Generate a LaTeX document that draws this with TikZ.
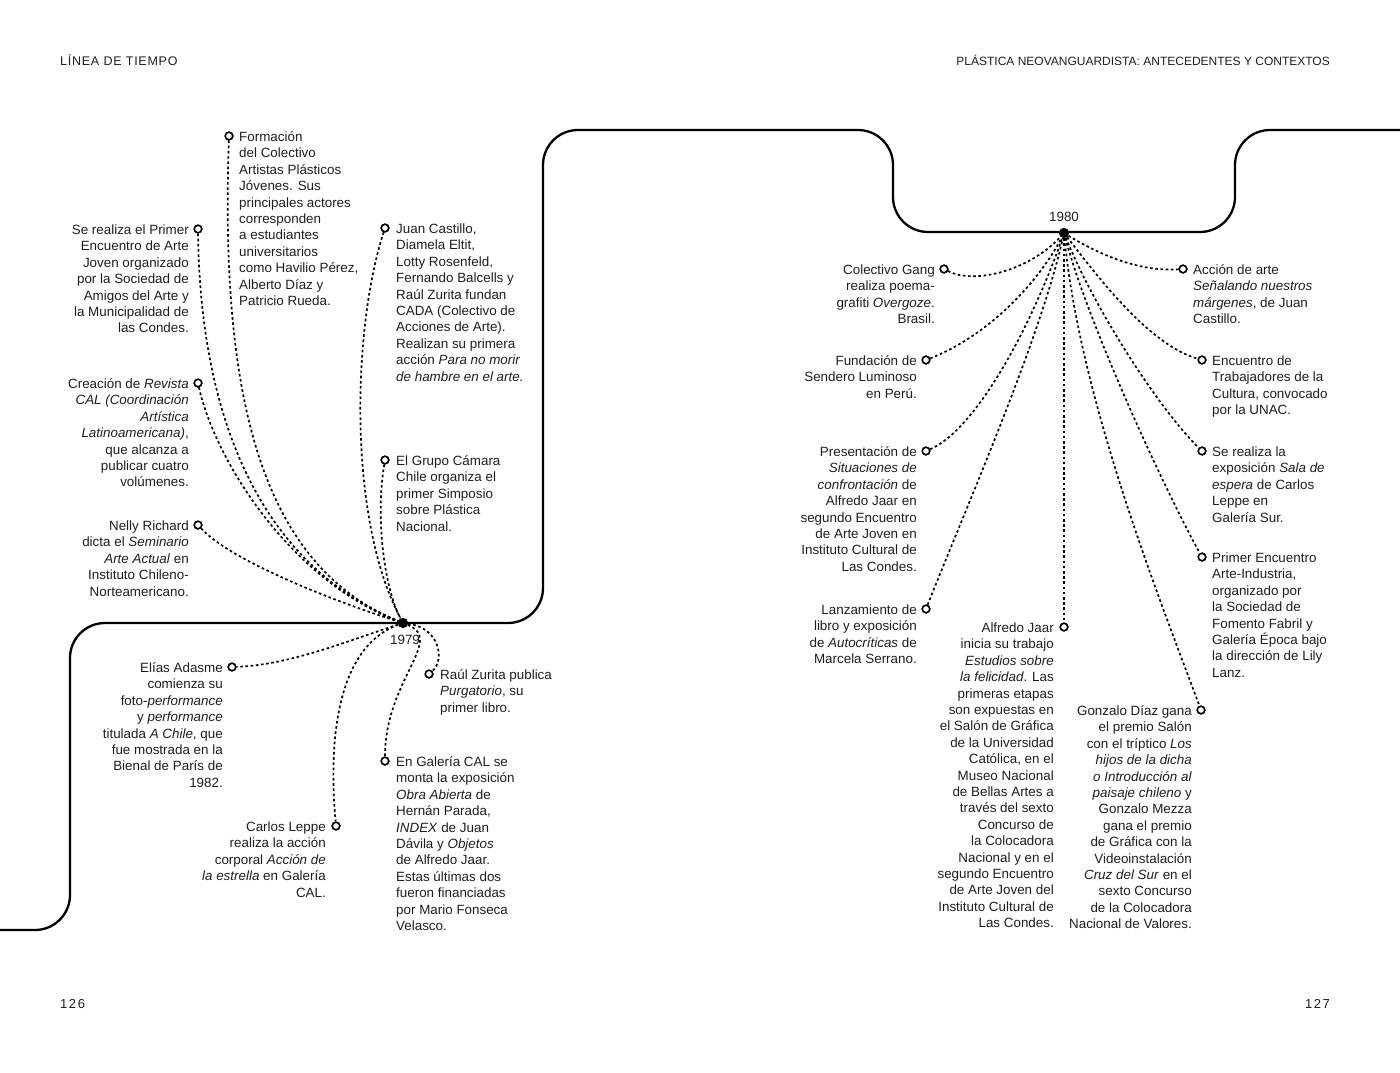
\documentclass[tikz,border=0pt]{standalone}
\usepackage{fontspec}
\setmainfont{Liberation Sans}
\definecolor{ink}{HTML}{1E1E1E}
\begin{document}
\begin{tikzpicture}[x=1pt,y=-1pt,
  timeline/.style={line width=2.3pt},
  dl/.style={line width=1.7pt, dash pattern=on 2.6pt off 2.6pt},
  ev/.style={circle, draw, line width=1.5pt, fill=white, inner sep=0pt, minimum size=7.5pt},
  hub/.style={circle, fill=black, inner sep=0pt, minimum size=10pt},
  tx/.style={inner sep=0pt, text=ink, font=\fontsize{13.4}{16.4}\selectfont, yshift=-3.5pt, execute at begin node=\rule{0pt}{12.5pt}},
  tr/.style={tx, anchor=north east, align=right},
  tw/.style={tx, anchor=north west, align=left},
  hdr/.style={inner sep=0pt, text=ink}]
\useasboundingbox (0,0) rectangle (1400,1073);

% headers and page numbers
\node[hdr, anchor=base west, font=\fontsize{12.5}{14}\selectfont\addfontfeatures{LetterSpace=6}] (h1) at (60,66) {LÍNEA DE TIEMPO};
\node[hdr, anchor=base east, font=\fontsize{12}{14}\selectfont] (h2) at (1330,66) {PLÁSTICA NEOVANGUARDISTA: ANTECEDENTES Y CONTEXTOS};
\node[hdr, anchor=base west, font=\fontsize{13}{14}\selectfont\addfontfeatures{LetterSpace=12}] (p1) at (60,1008) {126};
\node[hdr, anchor=base east, font=\fontsize{13}{14}\selectfont\addfontfeatures{LetterSpace=12}] (p2) at (1330,1008) {127};

% timeline
\draw[timeline, rounded corners=35pt] (-5,930) -- (70,930) -- (70,623) -- (543,623) -- (543,130) -- (893,130) -- (893,232) -- (1235,232) -- (1235,130) -- (1405,130);

% hubs
\node[hub] (h79) at (403,623) {};
\node[hub] (h80) at (1064,233) {};
\node[inner sep=0pt, text=ink, font=\fontsize{13.4}{16}\selectfont] (y79) at (405,640) {1979};
\node[inner sep=0pt, text=ink, font=\fontsize{13.4}{16}\selectfont] (y80) at (1064,217) {1980};

% event markers 1979
\node[ev] (e1) at (229,136) {};
\node[ev] (e2) at (198,229) {};
\node[ev] (e3) at (198,383) {};
\node[ev] (e4) at (198,525) {};
\node[ev] (e5) at (385,228) {};
\node[ev] (e6) at (385,460) {};
\node[ev] (e7) at (232,667) {};
\node[ev] (e8) at (336,826) {};
\node[ev] (e9) at (429,674) {};
\node[ev] (e10) at (385,761) {};
% event markers 1980
\node[ev] (f1) at (944,269) {};
\node[ev] (f2) at (926,360) {};
\node[ev] (f3) at (926,451) {};
\node[ev] (f4) at (926,609) {};
\node[ev] (f5) at (1064,627) {};
\node[ev] (f6) at (1201,710) {};
\node[ev] (f7) at (1183,269) {};
\node[ev] (f8) at (1202,360) {};
\node[ev] (f9) at (1202,451) {};
\node[ev] (f10) at (1202,557) {};

% connectors 1979
\draw[dl] (e1) .. controls (220,400) and (262,565) .. (h79);
\draw[dl] (e2) .. controls (200,400) and (250,560) .. (h79);
\draw[dl] (e3) .. controls (215,460) and (290,580) .. (h79);
\draw[dl] (e4) .. controls (230,560) and (330,600) .. (h79);
\draw[dl] (e5) .. controls (352,330) and (348,520) .. (h79);
\draw[dl] (e6) .. controls (375,520) and (385,590) .. (h79);
\draw[dl] (h79) .. controls (350,640) and (290,665) .. (e7);
\draw[dl] (h79) .. controls (330,650) and (330,760) .. (e8);
\draw[dl] (h79) .. controls (440,628) and (445,660) .. (e9);
\draw[dl] (h79) .. controls (445,640) and (385,680) .. (e10);
% connectors 1980
\draw[dl] (f1) .. controls (975,285) and (1030,270) .. (h80);
\draw[dl] (f2) .. controls (990,335) and (1040,280) .. (h80);
\draw[dl] (f3) .. controls (975,430) and (1030,330) .. (h80);
\draw[dl] (f4) .. controls (965,510) and (1040,340) .. (h80);
\draw[dl] (h80) -- (f5);
\draw[dl] (h80) .. controls (1080,400) and (1160,600) .. (f6);
\draw[dl] (h80) .. controls (1100,255) and (1140,272) .. (f7);
\draw[dl] (h80) .. controls (1100,280) and (1150,345) .. (f8);
\draw[dl] (h80) .. controls (1095,310) and (1160,410) .. (f9);
\draw[dl] (h80) .. controls (1090,330) and (1170,500) .. (f10);

% redraw markers on top
\foreach \n in {e1,e2,e3,e4,e5,e6,e7,e8,e9,e10,f1,f2,f3,f4,f5,f6,f7,f8,f9,f10}{
  \draw[line width=1.5pt, fill=white] (\n.center) circle (3.75pt);
}
\fill (h79.center) circle (5pt);
\fill (h80.center) circle (5pt);

% texts 1979
\node[tw] (t1) at (239,128) {Formación\\del Colectivo\\Artistas Plásticos\\Jóvenes. Sus\\principales actores\\corresponden\\a estudiantes\\universitarios\\como Havilio Pérez,\\Alberto Díaz y\\Patricio Rueda.};
\node[tr] (t2) at (189,221) {Se realiza el Primer\\Encuentro de Arte\\Joven organizado\\por la Sociedad de\\Amigos del Arte y\\la Municipalidad de\\las Condes.};
\node[tr] (t3) at (189,375) {Creación de \textit{Revista}\\\textit{CAL (Coordinación}\\\textit{Artística}\\\textit{Latinoamericana)},\\que alcanza a\\publicar cuatro\\volúmenes.};
\node[tr] (t4) at (189,517) {Nelly Richard\\dicta el \textit{Seminario}\\\textit{Arte Actual} en\\Instituto Chileno-\\Norteamericano.};
\node[tw] (t5) at (396,220) {Juan Castillo,\\Diamela Eltit,\\Lotty Rosenfeld,\\Fernando Balcells y\\Raúl Zurita fundan\\CADA (Colectivo de\\Acciones de Arte).\\Realizan su primera\\acción \textit{Para no morir}\\\textit{de hambre en el arte.}};
\node[tw] (t6) at (396,452) {El Grupo Cámara\\Chile organiza el\\primer Simposio\\sobre Plástica\\Nacional.};
\node[tr] (t7) at (223,659) {Elías Adasme\\comienza su\\foto-\textit{performance}\\y \textit{performance}\\titulada \textit{A Chile}, que\\fue mostrada en la\\Bienal de París de\\1982.};
\node[tr] (t8) at (326,818) {Carlos Leppe\\realiza la acción\\corporal \textit{Acción de}\\\textit{la estrella} en Galería\\CAL.};
\node[tw] (t9) at (440,666) {Raúl Zurita publica\\\textit{Purgatorio}, su\\primer libro.};
\node[tw] (t10) at (396,753) {En Galería CAL se\\monta la exposición\\\textit{Obra Abierta} de\\Hernán Parada,\\\textit{INDEX} de Juan\\Dávila y \textit{Objetos}\\de Alfredo Jaar.\\Estas últimas dos\\fueron financiadas\\por Mario Fonseca\\Velasco.};

% texts 1980
\node[tr] (u1) at (935,261) {Colectivo Gang\\realiza poema-\\grafiti \textit{Overgoze}.\\Brasil.};
\node[tr] (u2) at (917,352) {Fundación de\\Sendero Luminoso\\en Perú.};
\node[tr] (u3) at (917,443) {Presentación de\\\textit{Situaciones de}\\\textit{confrontación} de\\Alfredo Jaar en\\segundo Encuentro\\de Arte Joven en\\Instituto Cultural de\\Las Condes.};
\node[tr] (u4) at (917,601) {Lanzamiento de\\libro y exposición\\de \textit{Autocríticas} de\\Marcela Serrano.};
\node[tr] (u5) at (1054,619) {Alfredo Jaar\\inicia su trabajo\\\textit{Estudios sobre}\\\textit{la felicidad}. Las\\primeras etapas\\son expuestas en\\el Salón de Gráfica\\de la Universidad\\Católica, en el\\Museo Nacional\\de Bellas Artes a\\través del sexto\\Concurso de\\la Colocadora\\Nacional y en el\\segundo Encuentro\\de Arte Joven del\\Instituto Cultural de\\Las Condes.};
\node[tr] (u6) at (1192,702) {Gonzalo Díaz gana\\el premio Salón\\con el tríptico \textit{Los}\\\textit{hijos de la dicha}\\\textit{o Introducción al}\\\textit{paisaje chileno} y\\Gonzalo Mezza\\gana el premio\\de Gráfica con la\\Videoinstalación\\\textit{Cruz del Sur} en el\\sexto Concurso\\de la Colocadora\\Nacional de Valores.};
\node[tw] (u7) at (1193,261) {Acción de arte\\\textit{Señalando nuestros}\\\textit{márgenes}, de Juan\\Castillo.};
\node[tw] (u8) at (1212,352) {Encuentro de\\Trabajadores de la\\Cultura, convocado\\por la UNAC.};
\node[tw] (u9) at (1212,443) {Se realiza la\\exposición \textit{Sala de}\\\textit{espera} de Carlos\\Leppe en\\Galería Sur.};
\node[tw] (u10) at (1212,549) {Primer Encuentro\\Arte-Industria,\\organizado por\\la Sociedad de\\Fomento Fabril y\\Galería Época bajo\\la dirección de Lily\\Lanz.};
\end{tikzpicture}
\end{document}
